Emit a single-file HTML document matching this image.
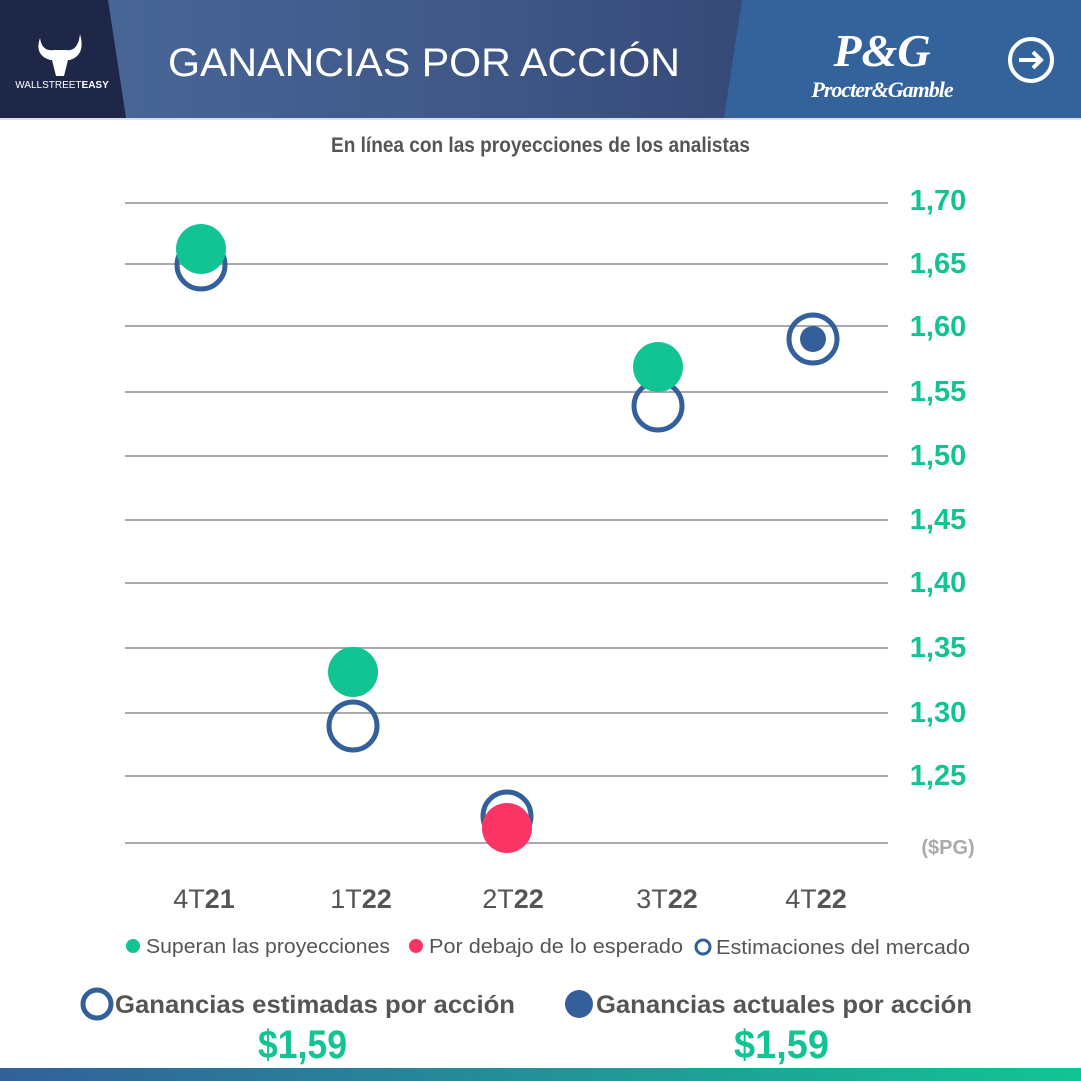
<!DOCTYPE html>
<html><head><meta charset="utf-8"><style>
body{margin:0;width:1081px;height:1081px;overflow:hidden;background:#fff;font-family:"Liberation Sans",sans-serif;}
</style></head><body>
<svg width="1081" height="1081" xmlns="http://www.w3.org/2000/svg" style="position:absolute;left:0;top:0">
<defs>
<linearGradient id="hg" x1="0" x2="1"><stop offset="0" stop-color="#4a6a9a"/><stop offset="0.5" stop-color="#3d5585"/><stop offset="1" stop-color="#2a3560"/></linearGradient>
<linearGradient id="bg" x1="0" x2="1"><stop offset="0" stop-color="#33609a"/><stop offset="1" stop-color="#12c494"/></linearGradient>
</defs>
<rect x="0" y="0" width="1081" height="118" fill="url(#hg)"/>
<polygon points="0,0 108,0 126,118 0,118" fill="#1f2749"/>
<polygon points="742,0 1081,0 1081,118 724,118" fill="#33639a"/>
<rect x="0" y="118" width="1081" height="2" fill="#dde"/>
<text x="62" y="88" fill="#fff" font-size="10" text-anchor="middle">WALLSTREET<tspan font-weight="bold">EASY</tspan></text>
<path d="M40 38 Q34 55 50 60 L70 60 Q86 55 80 34 Q78 52 66 50 L54 50 Q42 52 40 38Z M52 60 L56 76 L64 76 L68 60Z" fill="#fff"/>
<text x="168" y="76" fill="#fff" font-size="40" font-weight="500" textLength="512" lengthAdjust="spacingAndGlyphs">GANANCIAS POR ACCIÓN</text>
<text x="882" y="66" fill="#fff" font-size="46" text-anchor="middle" font-family="Liberation Serif" font-style="italic" font-weight="bold">P&amp;G</text>
<text x="882" y="97" fill="#fff" font-size="22" text-anchor="middle" font-family="Liberation Serif" font-style="italic" font-weight="bold" letter-spacing="-1">Procter&amp;Gamble</text>
<circle cx="1031" cy="60" r="21" fill="none" stroke="#fff" stroke-width="4"/>
<path d="M1019 60 H1041 M1033 52 L1041 60 L1033 68" stroke="#fff" stroke-width="4" fill="none"/>
<text x="331" y="152" fill="#555" font-size="21" font-weight="bold" textLength="419" lengthAdjust="spacingAndGlyphs">En línea con las proyecciones de los analistas</text>
<g stroke="#aaa" stroke-width="2">
<line x1="125" x2="888" y1="203" y2="203"/><line x1="125" x2="888" y1="264" y2="264"/>
<line x1="125" x2="888" y1="326" y2="326"/><line x1="125" x2="888" y1="392" y2="392"/>
<line x1="125" x2="888" y1="456" y2="456"/><line x1="125" x2="888" y1="520" y2="520"/>
<line x1="125" x2="888" y1="583" y2="583"/><line x1="125" x2="888" y1="648" y2="648"/>
<line x1="125" x2="888" y1="713" y2="713"/><line x1="125" x2="888" y1="776" y2="776"/>
<line x1="125" x2="888" y1="843" y2="843"/>
</g>
<g fill="#12c494" font-size="29" text-anchor="middle" font-weight="bold">
<text x="938" y="210">1,70</text><text x="938" y="273">1,65</text><text x="938" y="336">1,60</text>
<text x="938" y="401">1,55</text><text x="938" y="465">1,50</text><text x="938" y="529">1,45</text>
<text x="938" y="592">1,40</text><text x="938" y="657">1,35</text><text x="938" y="722">1,30</text>
<text x="938" y="785">1,25</text>
</g>
<text x="948" y="854" fill="#aaa" font-size="20" text-anchor="middle" font-weight="bold">($PG)</text>
<g fill="#555" font-size="27" text-anchor="middle">
<text x="204" y="908">4T<tspan font-weight="bold">21</tspan></text>
<text x="361" y="908">1T<tspan font-weight="bold">22</tspan></text>
<text x="513" y="908">2T<tspan font-weight="bold">22</tspan></text>
<text x="667" y="908">3T<tspan font-weight="bold">22</tspan></text>
<text x="816" y="908">4T<tspan font-weight="bold">22</tspan></text>
</g>
<g fill="none" stroke="#33609a" stroke-width="5">
<circle cx="201" cy="265" r="24"/><circle cx="353" cy="726" r="24"/>
<circle cx="507" cy="816" r="24"/><circle cx="658" cy="406" r="24"/><circle cx="813" cy="339" r="24"/>
</g>
<circle cx="201" cy="249" r="25" fill="#12c494"/>
<circle cx="353" cy="672" r="25" fill="#12c494"/>
<circle cx="658" cy="367" r="25" fill="#12c494"/>
<circle cx="507" cy="828" r="25" fill="#fb3466"/>
<circle cx="813" cy="339" r="13" fill="#33609a"/>
<g font-size="20" fill="#555">
<circle cx="133" cy="946" r="7" fill="#12c494"/><text x="146" y="953" textLength="244" lengthAdjust="spacingAndGlyphs">Superan las proyecciones</text>
<circle cx="416" cy="946" r="7" fill="#fb3466"/><text x="429" y="953" textLength="254" lengthAdjust="spacingAndGlyphs">Por debajo de lo esperado</text>
<circle cx="703" cy="947" r="7" fill="none" stroke="#33609a" stroke-width="3"/><text x="716" y="954" textLength="254" lengthAdjust="spacingAndGlyphs">Estimaciones del mercado</text>
</g>
<circle cx="97" cy="1004" r="14" fill="none" stroke="#33609a" stroke-width="5"/>
<text x="115" y="1013" fill="#555" font-size="25" font-weight="bold" textLength="400" lengthAdjust="spacingAndGlyphs">Ganancias estimadas por acción</text>
<circle cx="579" cy="1004" r="14" fill="#33609a"/>
<text x="596" y="1013" fill="#555" font-size="25" font-weight="bold" textLength="376" lengthAdjust="spacingAndGlyphs">Ganancias actuales por acción</text>
<text x="258" y="1058" fill="#12c494" font-size="40" font-weight="bold" textLength="89" lengthAdjust="spacingAndGlyphs">$1,59</text>
<text x="734" y="1058" fill="#12c494" font-size="40" font-weight="bold" textLength="95" lengthAdjust="spacingAndGlyphs">$1,59</text>
<rect x="0" y="1068" width="1081" height="13" fill="url(#bg)"/>
</svg>
</body></html>
